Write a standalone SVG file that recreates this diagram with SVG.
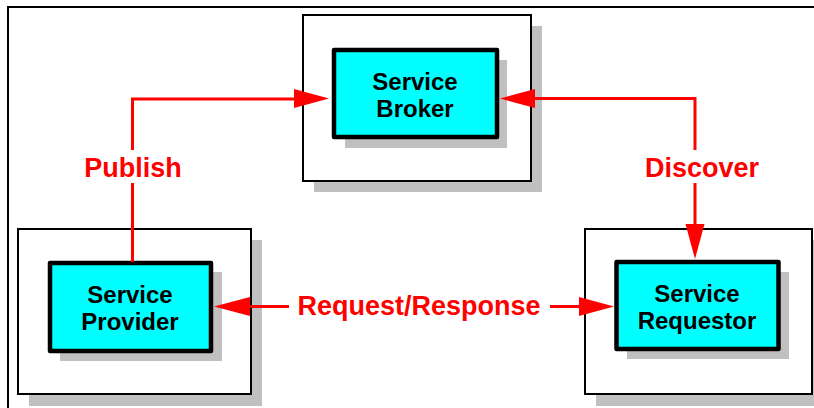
<svg xmlns="http://www.w3.org/2000/svg" width="814" height="408" viewBox="0 0 814 408">
<defs>
<style>
.shadow{fill:#c0c0c0;stroke:none}
.outer{fill:#fff;stroke:#000;stroke-width:2}
.inner{fill:#00ffff;stroke:#000;stroke-width:4.5;stroke-linejoin:round}
.ntext{font-family:"Liberation Sans",Arial,sans-serif;font-weight:bold;font-size:24px;fill:#000;text-anchor:middle}
.ltext{font-family:"Liberation Sans",Arial,sans-serif;font-weight:bold;font-size:27px;fill:#ff0000;text-anchor:middle}
.conn{fill:none;stroke:#ff0000;stroke-width:3}
.head{fill:#ff0000;stroke:none}
</style>
</defs>
<rect width="814" height="408" fill="#fff"/>
<path d="M8,408 V7 H814" fill="none" stroke="#000" stroke-width="2"/>

<g id="broker">
<rect class="shadow" x="314" y="26" width="228" height="166"/>
<rect class="outer" x="303" y="15" width="228" height="166"/>
<rect class="shadow" x="345" y="60" width="162" height="88"/>
<rect class="inner" x="334" y="50" width="163" height="87"/>
<text class="ntext" x="415" y="90">Service</text>
<text class="ntext" x="415" y="117">Broker</text>
</g>

<g id="provider">
<rect class="shadow" x="29" y="240" width="233" height="166"/>
<rect class="outer" x="18" y="229" width="233" height="165"/>
<rect class="shadow" x="60" y="272" width="162" height="89"/>
<rect class="inner" x="50" y="263" width="161" height="88"/>
<text class="ntext" x="130" y="303">Service</text>
<text class="ntext" x="130" y="330">Provider</text>
</g>

<g id="requestor">
<rect class="shadow" x="596" y="240" width="228" height="166"/>
<rect class="outer" x="585" y="229" width="227" height="165"/>
<rect class="shadow" x="627" y="272" width="162" height="87"/>
<rect class="inner" x="616.5" y="262" width="162" height="87"/>
<text class="ntext" x="697" y="302">Service</text>
<text class="ntext" x="697" y="329">Requestor</text>
</g>

<g id="connectors">
<path class="conn" d="M132.5,262 V183 M132.5,150 V99 H296"/>
<polygon class="head" points="329,98.5 294,89 294,108"/>
<text class="ltext" x="133" y="177">Publish</text>

<path class="conn" d="M533,98.5 H695 V150 M695,183 V226"/>
<polygon class="head" points="500,98.5 535,89 535,108"/>
<polygon class="head" points="695,259 685.5,224 704.5,224"/>
<text class="ltext" x="702" y="177">Discover</text>

<path class="conn" d="M248,306.5 H289 M550,306.5 H582"/>
<polygon class="head" points="214,306.5 250,297 250,316"/>
<polygon class="head" points="614,306.5 579,297 579,316"/>
<text class="ltext" x="419" y="315">Request/Response</text>
</g>
</svg>
